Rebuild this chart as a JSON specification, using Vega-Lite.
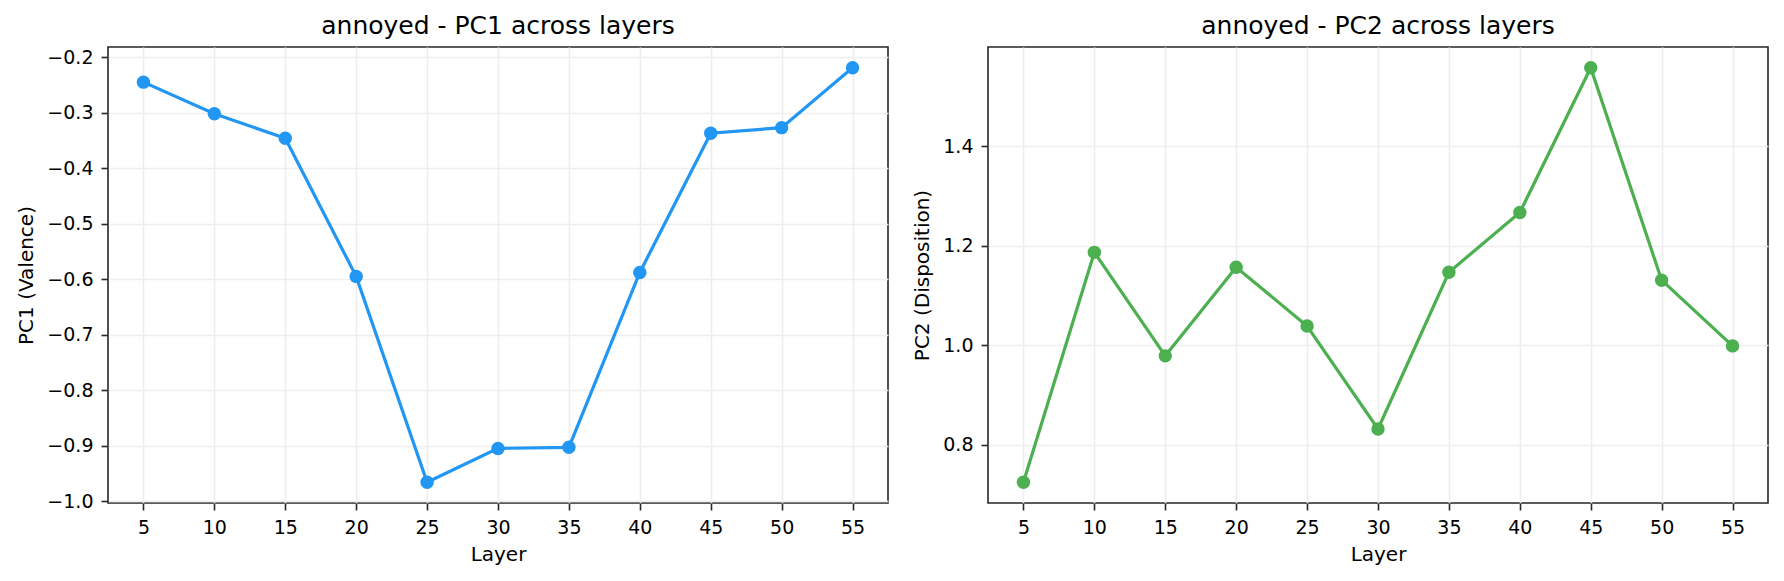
{
  "$schema": "https://vega.github.io/schema/vega-lite/v6.json",
  "description": "annoyed - PC1 and PC2 across layers",
  "padding": {"left": 16, "top": 12, "right": 11, "bottom": 12},
  "data": {
    "values": [
      {"layer": 5, "pc1": -0.245, "pc2": 0.725},
      {"layer": 10, "pc1": -0.302, "pc2": 1.187},
      {"layer": 15, "pc1": -0.346, "pc2": 0.979},
      {"layer": 20, "pc1": -0.595, "pc2": 1.157},
      {"layer": 25, "pc1": -0.966, "pc2": 1.039},
      {"layer": 30, "pc1": -0.905, "pc2": 0.832},
      {"layer": 35, "pc1": -0.903, "pc2": 1.147},
      {"layer": 40, "pc1": -0.588, "pc2": 1.267},
      {"layer": 45, "pc1": -0.337, "pc2": 1.558},
      {"layer": 50, "pc1": -0.327, "pc2": 1.131},
      {"layer": 55, "pc1": -0.219, "pc2": 0.999}
    ]
  },
  "bounds": "flush",
  "spacing": 100,
  "hconcat": [
    {
      "title": "annoyed - PC1 across layers",
      "width": 780,
      "height": 456,
      "encoding": {
        "x": {
          "field": "layer",
          "type": "quantitative",
          "scale": {"domain": [2.5, 57.5], "nice": false, "zero": false},
          "axis": {"values": [5, 10, 15, 20, 25, 30, 35, 40, 45, 50, 55], "title": "Layer", "titlePadding": 7}
        },
        "y": {
          "field": "pc1",
          "type": "quantitative",
          "scale": {"domain": [-1.00335, -0.18165], "nice": false, "zero": false},
          "axis": {
            "values": [-1.0, -0.9, -0.8, -0.7, -0.6, -0.5, -0.4, -0.3, -0.2],
            "format": ".1f",
            "title": "PC1 (Valence)"
          }
        }
      },
      "layer": [
        {"mark": {"type": "line", "color": "#2196F3", "strokeWidth": 3.2}},
        {"mark": {"type": "point", "filled": true, "shape": "circle", "size": 180, "opacity": 1, "color": "#2196F3"}}
      ]
    },
    {
      "title": "annoyed - PC2 across layers",
      "width": 780,
      "height": 456,
      "encoding": {
        "x": {
          "field": "layer",
          "type": "quantitative",
          "scale": {"domain": [2.5, 57.5], "nice": false, "zero": false},
          "axis": {"values": [5, 10, 15, 20, 25, 30, 35, 40, 45, 50, 55], "title": "Layer", "titlePadding": 7}
        },
        "y": {
          "field": "pc2",
          "type": "quantitative",
          "scale": {"domain": [0.68335, 1.59965], "nice": false, "zero": false},
          "axis": {"values": [0.8, 1.0, 1.2, 1.4], "format": ".1f", "title": "PC2 (Disposition)"}
        }
      },
      "layer": [
        {"mark": {"type": "line", "color": "#4CAF50", "strokeWidth": 3.2}},
        {"mark": {"type": "point", "filled": true, "shape": "circle", "size": 180, "opacity": 1, "color": "#4CAF50"}}
      ]
    }
  ],
  "config": {
    "font": "DejaVu Sans",
    "view": {"stroke": "#262626", "strokeWidth": 1.6},
    "axis": {
      "domain": false,
      "tickColor": "#262626",
      "tickSize": 7,
      "tickWidth": 1.6,
      "labelFontSize": 19,
      "labelColor": "#000000",
      "labelPadding": 8,
      "labelFlush": false,
      "titleFontSize": 20,
      "titleFontWeight": "normal",
      "titleColor": "#000000",
      "titlePadding": 10,
      "gridColor": "#eeeeee",
      "gridWidth": 1.6
    },
    "title": {"fontSize": 25, "fontWeight": "normal", "color": "#000000", "baseline": "alphabetic", "offset": 8.5, "frame": "group"}
  }
}
